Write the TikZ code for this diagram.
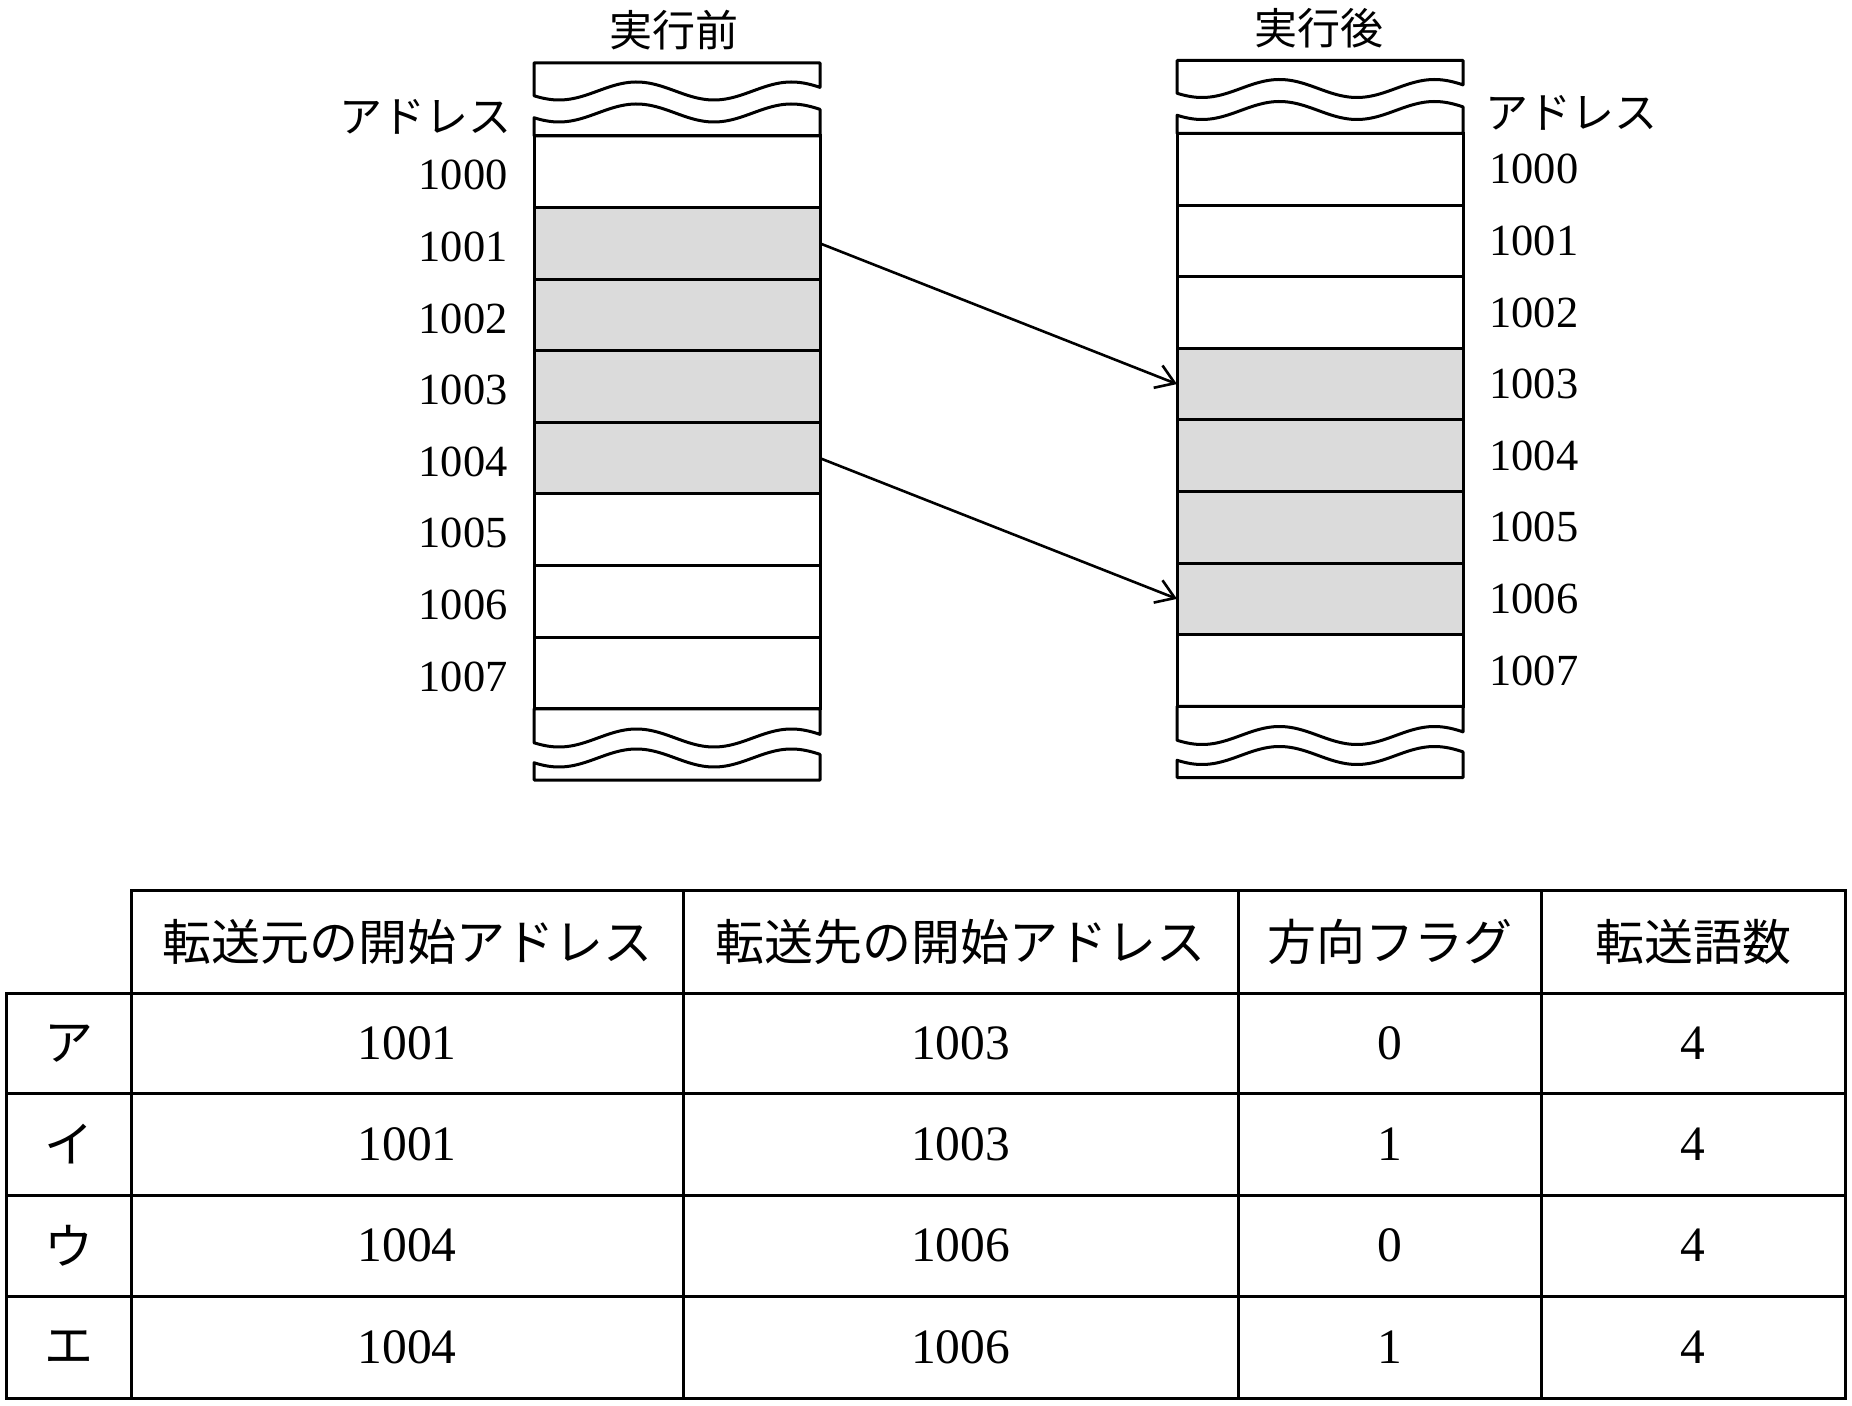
\documentclass[tikz,border=0pt]{standalone}
\usepackage{fontspec}
\setmainfont{Liberation Serif}
\newfontfamily\jpfont{Noto Sans CJK JP}
\usetikzlibrary{arrows.meta,positioning}
\newcommand{\capwave}[2]{plot[domain=0:286,samples=60,smooth] ({#1+\x},{#2+9*cos(2.3226*(\x-25))})}

\begin{document}
\begin{tikzpicture}[x=0.5pt,y=-0.5pt,
  wall/.style={line width=1.5pt,line join=round},
  cell/.style={draw,line width=1.5pt,minimum width=143pt,minimum height=35.8pt,inner sep=0pt,outer sep=0pt},
  used/.style={cell,fill=black!14},
  addr/.style={font=\fontsize{22.25}{22}\selectfont,inner sep=0pt},
  kana/.style={font=\jpfont\fontsize{21.5}{22}\selectfont,inner sep=0pt},
  move/.style={-{Straight Barb[length=9pt,width=12pt]},line width=1.3pt},
  grid/.style={line width=1.5pt,line cap=rect},
  entry/.style={font=\fontsize{24.75}{24}\selectfont,inner sep=0pt},
  head/.style={font=\jpfont\fontsize{24.5}{25}\selectfont,inner sep=0pt}]
\useasboundingbox (0,0) rectangle (1852,1406);

\node[kana] (tb) at (674,30) {実行前};
\draw[wall] \capwave{534}{91} -- (820,63) -- (534,63) -- cycle;
\draw[wall] \capwave{534}{113} -- (820,136) -- (534,136) -- cycle;
\foreach \k in {0,5,6,7} \node[cell] (p\k) at (677,{171.8+71.6*\k}) {};
\foreach \k in {1,...,4} \node[used] (p\k) at (677,{171.8+71.6*\k}) {};
\draw[wall] \capwave{534}{738} -- (820,708.8) -- (534,708.8) -- cycle;
\draw[wall] \capwave{534}{758} -- (820,780) -- (534,780) -- cycle;
\node[kana,anchor=east] (ab) at (512,117) {アドレス};
\foreach \k in {0,...,7} \node[addr,left=13pt of p\k.west,yshift=-1.75pt] (lp\k) {100\k};

\node[kana] (ta) at (1319,28) {実行後};
\draw[wall] \capwave{1177}{88.5} -- (1463,60.5) -- (1177,60.5) -- cycle;
\draw[wall] \capwave{1177}{110.5} -- (1463,133.5) -- (1177,133.5) -- cycle;
\foreach \k in {0,1,2,7} \node[cell] (q\k) at (1320,{169.3+71.6*\k}) {};
\foreach \k in {3,...,6} \node[used] (q\k) at (1320,{169.3+71.6*\k}) {};
\draw[wall] \capwave{1177}{735.5} -- (1463,706.3) -- (1177,706.3) -- cycle;
\draw[wall] \capwave{1177}{755.5} -- (1463,777.5) -- (1177,777.5) -- cycle;
\node[kana,anchor=west] (aa) at (1485,113) {アドレス};
\foreach \k in {0,...,7} \node[addr,right=13pt of q\k.east] (lq\k) {100\k};

\draw[move] (p1.east) -- (q3.west);
\draw[move] (p4.east) -- (q6.west);

\draw[grid] (131,890) -- (1845,890);
\foreach \y in {993,1093,1195,1296,1398} \draw[grid] (6,\y) -- (1845,\y);
\draw[grid] (6,993) -- (6,1398);
\foreach \x in {131,683,1238,1541,1845} \draw[grid] (\x,890) -- (\x,1398);

\node[head] (h1) at (407,941.5) {転送元の開始アドレス};
\node[head] (h2) at (960.5,941.5) {転送先の開始アドレス};
\node[head] (h3) at (1389.5,941.5) {方向フラグ};
\node[head] (h4) at (1693,941.5) {転送語数};
\foreach \lab/\src/\dst/\dir/\num [count=\r] in {ア/1001/1003/0/4,イ/1001/1003/1/4,ウ/1004/1006/0/4,エ/1004/1006/1/4} {
  \node[head] (c\r) at (68.5,{942+101.2*\r}) {\lab};
  \node[entry] (s\r) at (407,{942+101.2*\r}) {\src};
  \node[entry] (d\r) at (960.5,{942+101.2*\r}) {\dst};
  \node[entry] (f\r) at (1389.5,{942+101.2*\r}) {\dir};
  \node[entry] (w\r) at (1693,{942+101.2*\r}) {\num};
}
\end{tikzpicture}
\end{document}
